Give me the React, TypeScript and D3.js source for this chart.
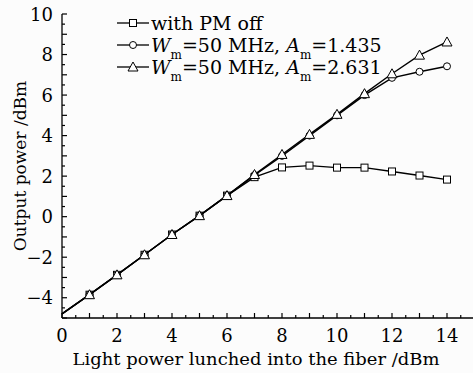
import React from "react";
import * as d3 from "d3";

const xValues = [0, 1, 2, 3, 4, 5, 6, 7, 8, 9, 10, 11, 12, 13, 14];
const pmOff = [-4.8, -3.85, -2.87, -1.88, -0.88, 0.05, 1.04, 1.95, 2.43, 2.52, 2.42, 2.42, 2.23, 2.03, 1.83];
const am1435 = [-4.8, -3.85, -2.87, -1.88, -0.88, 0.05, 1.04, 2.05, 3.0, 4.0, 5.0, 6.0, 6.85, 7.15, 7.42];
const am2631 = [-4.8, -3.85, -2.87, -1.88, -0.88, 0.05, 1.04, 2.08, 3.07, 4.06, 5.05, 6.07, 7.05, 7.97, 8.62];
const xTickLabels = [0, 2, 4, 6, 8, 10, 12, 14];
const yTickLabels = [-4, -2, 0, 2, 4, 6, 8, 10];

const FONT = "'DejaVu Serif', serif";

export default function App() {
  const W = 473, H = 373;
  const left = 62, top = 14, bottom = 318;
  const x = d3.scaleLinear().domain([0, 15]).range([left, left + 15 * 27.5]);
  const y = d3.scaleLinear().domain([-5, 10]).range([bottom, top]);
  const line = d3.line<number>().x((_, i) => x(xValues[i])).y((d) => y(d));

  const xMinor = d3.range(0, 15.01, 0.5);
  const yMinor = d3.range(-5, 10.01, 0.5);

  const square = (cx: number, cy: number, k: string) => (
    <rect key={k} x={cx - 3.5} y={cy - 3.5} width={7} height={7} fill="white" stroke="black" strokeWidth={1} />
  );
  const circle = (cx: number, cy: number, k: string) => (
    <circle key={k} cx={cx} cy={cy} r={3.5} fill="white" stroke="black" strokeWidth={1} />
  );
  const tri = (cx: number, cy: number, k: string) => (
    <path key={k} d={`M${cx},${cy - 5}L${cx + 5},${cy + 4}L${cx - 5},${cy + 4}Z`} fill="white" stroke="black" strokeWidth={1} />
  );

  const series = [
    { data: pmOff, marker: square },
    { data: am1435, marker: circle },
    { data: am2631, marker: tri },
  ];

  const sub = (t: string) => (
    <>
      <tspan fontSize={12} dy={7}>{t}</tspan>
    </>
  );

  const legendRows = [
    { y: 23, marker: square, label: <tspan>with PM off</tspan> },
    {
      y: 45,
      marker: circle,
      label: (
        <>
          <tspan fontStyle="italic">W</tspan>
          {sub("m")}
          <tspan dy={-7}>=50 MHz, </tspan>
          <tspan fontStyle="italic">A</tspan>
          {sub("m")}
          <tspan dy={-7}>=1.435</tspan>
        </>
      ),
    },
    {
      y: 67,
      marker: tri,
      label: (
        <>
          <tspan fontStyle="italic">W</tspan>
          {sub("m")}
          <tspan dy={-7}>=50 MHz, </tspan>
          <tspan fontStyle="italic">A</tspan>
          {sub("m")}
          <tspan dy={-7}>=2.631</tspan>
        </>
      ),
    },
  ];

  return (
    <svg width={W} height={H} style={{ position: "absolute", left: 0, top: 0 }} fontFamily={FONT}>
      <rect x={0} y={0} width={W} height={H} fill="#fcfcfc" />
      {/* axes */}
      <line x1={left} y1={top} x2={left} y2={bottom} stroke="black" strokeWidth={1.3} />
      <line x1={left} y1={bottom} x2={x(15)} y2={bottom} stroke="black" strokeWidth={1.3} />
      {xMinor.map((v, i) => (
        <line key={"xt" + i} x1={x(v)} x2={x(v)} y1={bottom} y2={bottom - (Number.isInteger(v) ? 5 : 3)} stroke="black" strokeWidth={1.2} />
      ))}
      {yMinor.map((v, i) => (
        <line key={"yt" + i} x1={left} x2={left + (Number.isInteger(v) ? 5 : 3)} y1={y(v)} y2={y(v)} stroke="black" strokeWidth={1.2} />
      ))}
      {xTickLabels.map((v) => (
        <text key={"xl" + v} x={x(v)} y={342} textAnchor="middle" fontSize={18}>{v}</text>
      ))}
      {yTickLabels.map((v) => (
        <text key={"yl" + v} x={53} y={y(v) + 6.5} textAnchor="end" fontSize={18}>{v < 0 ? "\u2212" + Math.abs(v) : v}</text>
      ))}
      <text x={256} y={365} textAnchor="middle" fontSize={17} textLength={367} lengthAdjust="spacingAndGlyphs">Light power lunched into the fiber /dBm</text>
      <text transform={`translate(26,${(top + bottom) / 2}) rotate(-90)`} textAnchor="middle" fontSize={17}>Output power /dBm</text>
      {/* series */}
      {series.map((s, si) => (
        <g key={"s" + si}>
          <path d={line(s.data) || ""} fill="none" stroke="black" strokeWidth={1.4} />
          {s.data.map((v, i) => (xValues[i] > 0 ? s.marker(x(xValues[i]), y(v), `m${si}-${i}`) : null))}
        </g>
      ))}
      {/* legend */}
      {legendRows.map((r, i) => (
        <g key={"lg" + i}>
          <line x1={117} x2={149} y1={r.y} y2={r.y} stroke="black" strokeWidth={1.3} />
          {r.marker(133, r.y, "lm" + i)}
          <text x={151} y={r.y + 6.5} fontSize={19}>{r.label}</text>
        </g>
      ))}
    </svg>
  );
}
